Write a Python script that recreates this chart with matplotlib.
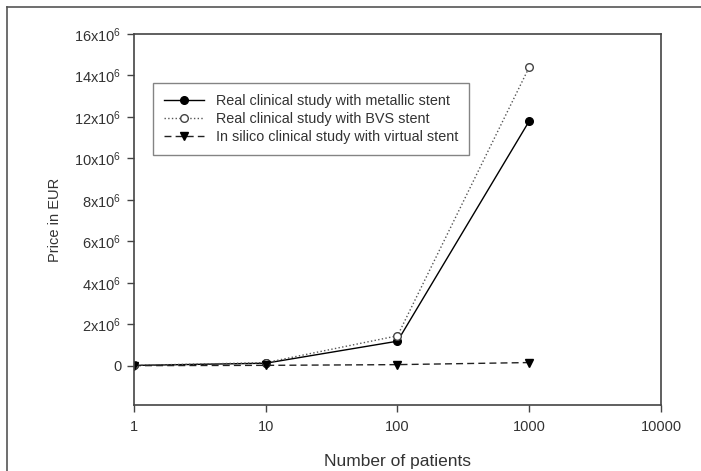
import matplotlib
matplotlib.use('Agg')
import matplotlib.pyplot as plt
from matplotlib.lines import Line2D
from matplotlib.ticker import FixedLocator, FixedFormatter

plt.rcParams['font.family'] = ['Liberation Sans', 'DejaVu Sans']
plt.rcParams['mathtext.fontset'] = 'custom'
plt.rcParams['mathtext.rm'] = 'Liberation Sans'
plt.rcParams['mathtext.it'] = 'Liberation Sans'

patients = [1, 10, 100, 1000]
metallic = [11800, 118000, 1180000, 11800000]
bvs = [14400, 144000, 1440000, 14400000]
virtual = [1500, 15000, 50000, 150000]

y_ticks = [0, 2e6, 4e6, 6e6, 8e6, 10e6, 12e6, 14e6, 16e6]
y_labels = ['0'] + ['%dx10$^6$' % v for v in range(2, 17, 2)]
x_ticks = [1, 10, 100, 1000, 10000]
x_labels = ['1', '10', '100', '1000', '10000']

txt = '#333333'

fig = plt.figure(figsize=(7.01, 4.71), dpi=100)
ax = fig.add_axes([0.191, 0.140, 0.752, 0.788])

ax.plot(patients, metallic, color='black', lw=1.0, marker='o', ms=5.5,
        label='Real clinical study with metallic stent')
ax.plot(patients, bvs, color='#555555', lw=1.0, ls=':', marker='o', ms=5.5,
        mfc='white', mec='#444444', label='Real clinical study with BVS stent')
ax.plot(patients, virtual, color='#222222', lw=1.0, ls=(0, (5, 3)), marker='v', ms=5.5,
        mfc='black', mec='black', label='In silico clinical study with virtual stent')

ax.set_xscale('log')
ax.set_xlim(1, 10000)
ax.set_ylim(-1.9e6, 16e6)
ax.xaxis.set_major_locator(FixedLocator(x_ticks))
ax.xaxis.set_major_formatter(FixedFormatter(x_labels))
ax.xaxis.set_minor_locator(FixedLocator([]))
ax.yaxis.set_major_locator(FixedLocator(y_ticks))
ax.yaxis.set_major_formatter(FixedFormatter(y_labels))

ax.tick_params(direction='out', length=5, width=1, colors='#444444',
               labelcolor=txt, labelsize=10.5)
ax.tick_params(axis='x', pad=6)
ax.tick_params(axis='y', pad=4)
for s in ax.spines.values():
    s.set_color('#444444')
    s.set_linewidth(1.2)

ax.set_xlabel('Number of patients', fontsize=12.5, color=txt, labelpad=14)
ax.set_ylabel('Price in EUR', fontsize=10.5, color=txt, labelpad=9)

leg = ax.legend(loc='upper left', bbox_to_anchor=(0.036, 0.868), fontsize=10.4,
                frameon=True, fancybox=False, handlelength=2.8, borderaxespad=0,
                borderpad=0.75, labelspacing=0.28, handletextpad=0.8)
leg.get_frame().set_edgecolor('#666666')
leg.get_frame().set_linewidth(1.0)
for t in leg.get_texts():
    t.set_color(txt)

# outer frame lines (left and top)
fig.add_artist(Line2D([0.01, 0.01], [0, 0.985], transform=fig.transFigure,
                      color='#555555', lw=1.2))
fig.add_artist(Line2D([0.01, 1.0], [0.985, 0.985], transform=fig.transFigure,
                      color='#555555', lw=1.2))

fig.savefig('out.png', dpi=100)
